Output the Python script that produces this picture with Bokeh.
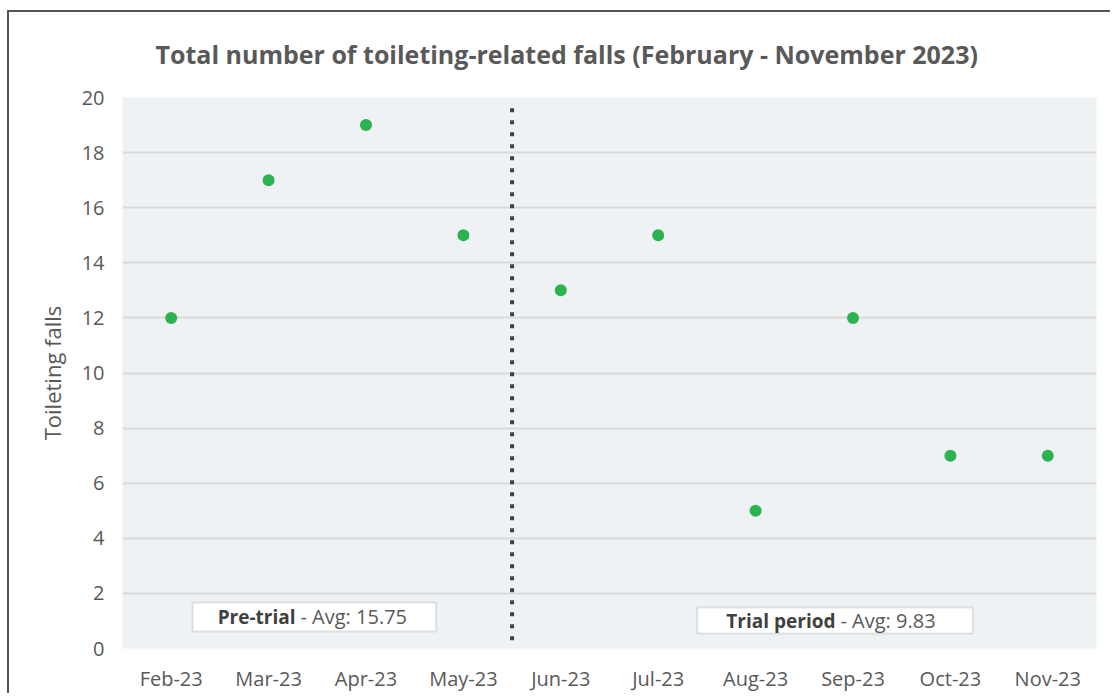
from bokeh.plotting import figure
from bokeh.models import FactorRange, Range1d, SingleIntervalTicker, BoxAnnotation, Label, Title
from bokeh.embed import file_html
from bokeh.resources import INLINE

months = ["Feb-23", "Mar-23", "Apr-23", "May-23", "Jun-23",
          "Jul-23", "Aug-23", "Sep-23", "Oct-23", "Nov-23"]
falls = [12, 17, 19, 15, 13, 15, 5, 12, 7, 7]
pre_label = "Pre-trial"
pre_avg = "- Avg: 15.75"
trial_label = "Trial period"
trial_avg = "- Avg: 9.83"
title_text = "Total number of toileting-related falls (February - November 2023)"

FONT = "Open Sans"
GRAY = "#595959"

p = figure(x_range=FactorRange(factors=months, range_padding=0),
           y_range=Range1d(0, 20),
           width=1103, height=683, output_backend="svg", toolbar_location=None,
           min_border_left=113, min_border_top=85, min_border_right=16, min_border_bottom=47)
p.styles = {"border-left": "2px solid #555555", "border-top": "2px solid #555555",
            "margin-left": "7px", "margin-top": "10px"}

p.title = Title(text=title_text, align="left", offset=33, vertical_align="top",
                text_font=FONT, text_font_size="25px", text_font_style="bold",
                text_color=GRAY, standoff=49)

p.background_fill_color = "#EEF2F4"
p.border_fill_color = "white"
p.outline_line_color = None

p.xgrid.grid_line_color = None
p.ygrid.grid_line_color = "#D9D9D9"
p.ygrid.grid_line_width = 2

p.yaxis.ticker = SingleIntervalTicker(interval=2)
for ax in (p.xaxis[0], p.yaxis[0]):
    ax.axis_line_color = None
    ax.major_tick_line_color = None
    ax.minor_tick_line_color = None
    ax.major_tick_out = 0
    ax.major_tick_in = 0
    ax.minor_tick_out = 0
    ax.minor_tick_in = 0
    ax.major_label_text_font = FONT
    ax.major_label_text_font_size = "20px"
    ax.major_label_text_color = GRAY
p.yaxis.major_label_standoff = 18
p.xaxis.major_label_standoff = 16
p.yaxis.axis_label = "Toileting falls"
p.yaxis.axis_label_text_font = FONT
p.yaxis.axis_label_text_font_size = "22px"
p.yaxis.axis_label_text_font_style = "normal"
p.yaxis.axis_label_text_color = GRAY
p.yaxis.axis_label_standoff = 12

# divider between pre-trial and trial period
p.segment(x0=[4], y0=[0.3], x1=[4], y1=[19.65], line_color="#404040",
          line_width=4, line_dash="4 8", line_cap="butt")

p.scatter(x=months, y=falls, size=12, color="#2CB34F", line_color=None)

# annotation boxes
for (l, r, b, t) in [(0.72, 3.22, 0.62, 1.67), (5.90, 8.73, 0.54, 1.49)]:
    p.add_layout(BoxAnnotation(left=l, right=r, bottom=b, top=t,
                               fill_color="white", fill_alpha=1,
                               line_color="#A6A6A6", line_width=2, level="annotation"))

for (x, y, bold, rest) in [(1.776, 1.15, pre_label, pre_avg), (7.32, 1.0, trial_label, trial_avg)]:
    p.add_layout(Label(x=x, y=y, text=bold, text_align="right", text_baseline="middle",
                       text_font=FONT, text_font_size="19px", text_font_style="bold",
                       text_color="#404040"))
    p.add_layout(Label(x=x, y=y, x_offset=5, text=rest, text_align="left", text_baseline="middle",
                       text_font=FONT, text_font_size="20px", text_color=GRAY))

open("out.html", "w").write(file_html(p, INLINE))
